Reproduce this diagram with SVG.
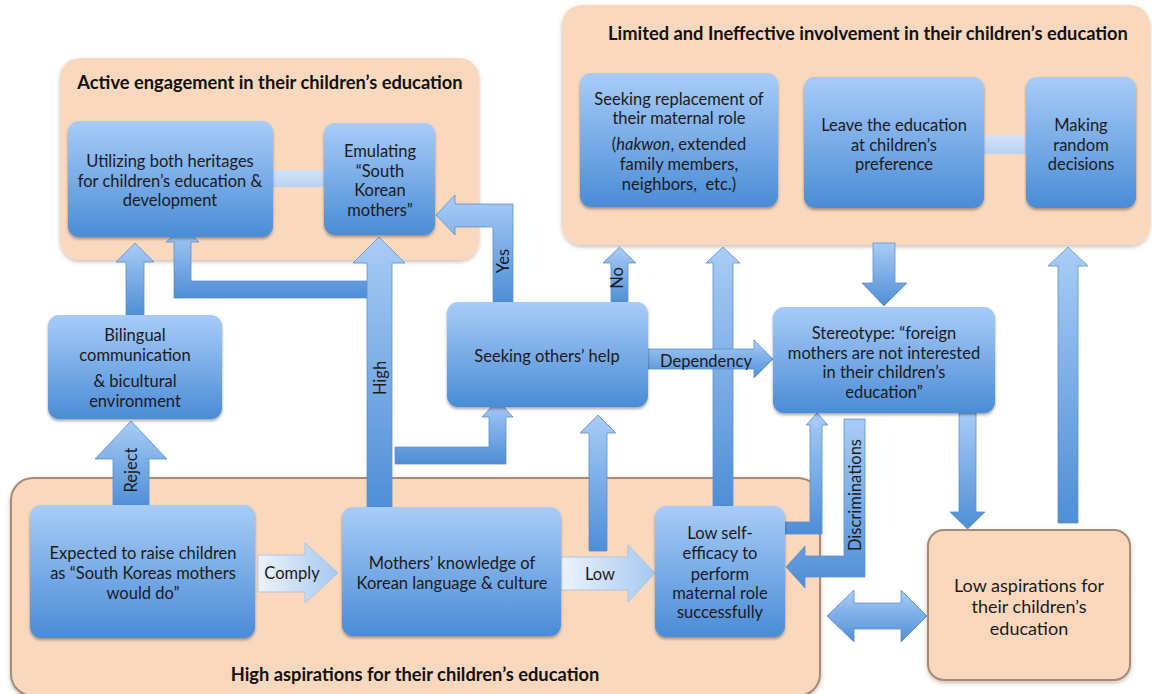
<svg xmlns="http://www.w3.org/2000/svg" width="1152" height="694" viewBox="0 0 1152 694">
  <defs>
    <linearGradient id="nodeGrad" x1="0" y1="0" x2="0" y2="1">
      <stop offset="0" stop-color="#A8CCF8"/>
      <stop offset="1" stop-color="#4A8CD6"/>
    </linearGradient>
    <linearGradient id="arrowGrad" x1="0" y1="0" x2="0" y2="1">
      <stop offset="0" stop-color="#A9CCF6"/>
      <stop offset="1" stop-color="#4E8ED6"/>
    </linearGradient>
    <linearGradient id="lightGrad" x1="0" y1="0" x2="1" y2="0">
      <stop offset="0" stop-color="#EDF3FC"/>
      <stop offset="1" stop-color="#A6C8F0"/>
    </linearGradient>
    <linearGradient id="barGrad" x1="0" y1="0" x2="0" y2="1">
      <stop offset="0" stop-color="#D3E3F7"/>
      <stop offset="1" stop-color="#B9D2F1"/>
    </linearGradient>
    <filter id="shadow" x="-10%" y="-10%" width="120%" height="125%">
      <feDropShadow dx="0" dy="2" stdDeviation="1.8" flood-color="#000" flood-opacity="0.35"/>
    </filter>
    <filter id="softShadow" x="-5%" y="-5%" width="110%" height="115%">
      <feDropShadow dx="0" dy="2" stdDeviation="2" flood-color="#6b4a30" flood-opacity="0.35"/>
    </filter>
  </defs>
  <style>
    .group { fill: #F9D8BE; filter: url(#softShadow); }
    .framed { stroke: #A88A74; stroke-width: 2; }
    .node { fill: url(#nodeGrad); filter: url(#shadow); }
    .arrow { fill: url(#arrowGrad); stroke: #5C8FD0; stroke-width: 0.8; }
    .light { fill: url(#lightGrad); stroke: #9FC0E8; stroke-width: 0.8; }
    .bar { fill: url(#barGrad); }
    text { font-family: Lato, "Liberation Sans", sans-serif; fill: #1B1B1B; }
    .t { font-size: 16.5px; text-anchor: middle; }
    .title { font-size: 18.3px; font-weight: bold; text-anchor: middle; fill: #111; }
    .lbl { font-size: 16.5px; text-anchor: middle; }
    .big { font-size: 18px; text-anchor: middle; }
  </style>

  <rect width="1152" height="694" fill="#FFFFFF"/>

  <!-- group panels -->
  <g id="active-engagement">
    <rect class="group" x="60" y="58" width="419" height="202" rx="20"/>
    <text class="title" x="270" y="89">Active engagement in their children’s education</text>
  </g>
  <g id="limited-involvement">
    <rect class="group" x="562" y="5" width="588" height="240" rx="20"/>
    <text class="title" x="868" y="40">Limited and Ineffective involvement in their children’s education</text>
  </g>
  <g id="high-aspirations">
    <rect class="group framed" x="11" y="478" width="809" height="218" rx="22"/>
    <text class="title" x="415" y="681">High aspirations for their children’s education</text>
  </g>

  <!-- connectors -->
  <g id="connectors">
    <!-- plain links -->
    <rect class="bar" x="272" y="170" width="53" height="17"/>
    <rect class="bar" x="983" y="135" width="44" height="19"/>

    <!-- Reject -->
    <polygon class="arrow" points="113,507 113,459 95,459 131,421 167,459 149,459 149,507"/>
    <!-- bilingual to utilizing -->
    <polygon class="arrow" points="126,316 126,262 116,262 135,243 154,262 144,262 144,316"/>
    <!-- branch to utilizing -->
    <path class="arrow" d="M368,281 H191 V242 H199 L182.5,228 L166,242 H174 V298 H368 Z"/>
    <!-- High -->
    <polygon class="arrow" points="367,508 367,263 353,263 379,237 405,263 392,263 392,508"/>
    <!-- Yes -->
    <path class="arrow" d="M493,302 V227 H455 V235 L436,215 L455,195 V204 H513 V302 Z"/>
    <!-- No -->
    <polygon class="arrow" points="611,303 611,263 603,263 619.5,247 636,263 628,263 628,303"/>
    <!-- low self-efficacy to limited involvement -->
    <polygon class="arrow" points="713,507 713,263 706,263 723,247 740,263 733,263 733,507"/>
    <!-- up to seeking help -->
    <polygon class="arrow" points="589,551 589,433 580,433 598,415 616,433 607,433 607,551"/>
    <!-- branch to seeking help -->
    <path class="arrow" d="M395,447 H489 V417 H482 L497.5,400 L513,417 H506 V464 H395 Z"/>
    <!-- Dependency -->
    <path class="arrow" d="M648,349 H754 V340 L773,359 L754,378 V369 H648 Z"/>
    <!-- limited involvement to stereotype -->
    <polygon class="arrow" points="873,243 873,283 862,283 884,306 907,283 895,283 895,243"/>
    <!-- stereotype to low aspirations -->
    <polygon class="arrow" points="959,413 959,512 950,512 967.5,529 985,512 976,512 976,413"/>
    <!-- low aspirations to limited involvement -->
    <polygon class="arrow" points="1058,523 1058,266 1048,266 1068,247 1088,266 1078,266 1078,523"/>
    <!-- low self-efficacy to stereotype -->
    <path class="arrow" d="M785,522 H810 V425 H806 L817,413 L828,425 H822 V534 H785 Z"/>
    <!-- Discriminations -->
    <path class="arrow" d="M865,419 V577 H805 V588 L786,567 L805,546 V556 H844 V419 Z"/>
    <!-- Comply -->
    <path class="light" d="M258,555 H305 V543 L338,573 L305,603 V592 H258 Z"/>
    <!-- Low -->
    <path class="light" d="M561,557 H628 V545 L655,573 L628,602 V590 H561 Z"/>
    <!-- two-way link -->
    <path class="arrow" d="M827,616 L854,590 V603 H901 V590 L927,616 L901,642 V629 H854 V642 Z"/>

    <text class="lbl" transform="translate(131,470) rotate(-90)" dy="6">Reject</text>
    <text class="lbl" transform="translate(380,378) rotate(-90)" dy="6">High</text>
    <text class="lbl" transform="translate(503,261) rotate(-90)" dy="6">Yes</text>
    <text class="lbl" transform="translate(617,278) rotate(-90)" dy="6">No</text>
    <text class="lbl" transform="translate(855,495) rotate(-90)" dy="6">Discriminations</text>
    <text class="lbl" x="706" y="367">Dependency</text>
    <text class="lbl" x="292" y="579">Comply</text>
    <text class="lbl" x="600" y="580">Low</text>
  </g>

  <!-- nodes -->
  <g id="utilizing-heritages">
    <rect class="node" x="68" y="121" width="205" height="116" rx="11"/>
    <text class="t" x="170" y="167">Utilizing both heritages</text>
    <text class="t" x="170" y="187">for children’s education &amp;</text>
    <text class="t" x="170" y="206">development</text>
  </g>
  <g id="emulating">
    <rect class="node" x="324" y="123" width="111" height="112" rx="11"/>
    <text class="t" x="380" y="157">Emulating</text>
    <text class="t" x="380" y="177">“South</text>
    <text class="t" x="380" y="196">Korean</text>
    <text class="t" x="380" y="216">mothers”</text>
  </g>
  <g id="bilingual">
    <rect class="node" x="48" y="315" width="174" height="104" rx="11"/>
    <text class="t" x="135" y="341">Bilingual</text>
    <text class="t" x="135" y="361">communication</text>
    <text class="t" x="135" y="387">&amp; bicultural</text>
    <text class="t" x="135" y="407">environment</text>
  </g>
  <g id="seeking-replacement">
    <rect class="node" x="580" y="73" width="198" height="134" rx="11"/>
    <text class="t" x="679" y="105">Seeking replacement of</text>
    <text class="t" x="679" y="124">their maternal role</text>
    <text class="t" x="679" y="150">(<tspan font-style="italic">hakwon</tspan>, extended</text>
    <text class="t" x="679" y="170">family members,</text>
    <text class="t" x="679" y="190" xml:space="preserve">neighbors,  etc.)</text>
  </g>
  <g id="leave-education">
    <rect class="node" x="804" y="77" width="180" height="131" rx="11"/>
    <text class="t" x="894" y="131">Leave the education</text>
    <text class="t" x="894" y="151">at children’s</text>
    <text class="t" x="894" y="170">preference</text>
  </g>
  <g id="random-decisions">
    <rect class="node" x="1026" y="77" width="110" height="131" rx="11"/>
    <text class="t" x="1081" y="131">Making</text>
    <text class="t" x="1081" y="151">random</text>
    <text class="t" x="1081" y="170">decisions</text>
  </g>
  <g id="seeking-help">
    <rect class="node" x="447" y="302" width="201" height="105" rx="11"/>
    <text class="t" x="547" y="362">Seeking others’ help</text>
  </g>
  <g id="stereotype">
    <rect class="node" x="773" y="307" width="222" height="106" rx="11"/>
    <text class="t" x="884" y="339">Stereotype: “foreign</text>
    <text class="t" x="884" y="359">mothers are not interested</text>
    <text class="t" x="884" y="378">in their children’s</text>
    <text class="t" x="884" y="398">education”</text>
  </g>
  <g id="expected-to-raise">
    <rect class="node" x="30" y="505" width="225" height="133" rx="11"/>
    <text class="t" x="143" y="559">Expected to raise children</text>
    <text class="t" x="143" y="579">as “South Koreas mothers</text>
    <text class="t" x="143" y="599">would do”</text>
  </g>
  <g id="mothers-knowledge">
    <rect class="node" x="342" y="507" width="219" height="129" rx="11"/>
    <text class="t" x="452" y="569">Mothers’ knowledge of</text>
    <text class="t" x="452" y="589">Korean language &amp; culture</text>
  </g>
  <g id="low-self-efficacy">
    <rect class="node" x="655" y="506" width="130" height="131" rx="11"/>
    <text class="t" x="720" y="539">Low self-</text>
    <text class="t" x="720" y="559">efficacy to</text>
    <text class="t" x="720" y="580">perform</text>
    <text class="t" x="720" y="599">maternal role</text>
    <text class="t" x="720" y="618">successfully</text>
  </g>
  <g id="low-aspirations">
    <rect class="group framed" x="928" y="530" width="202" height="150" rx="16"/>
    <text class="big" x="1029" y="592">Low aspirations for</text>
    <text class="big" x="1029" y="613">their children’s</text>
    <text class="big" x="1029" y="635">education</text>
  </g>
</svg>
